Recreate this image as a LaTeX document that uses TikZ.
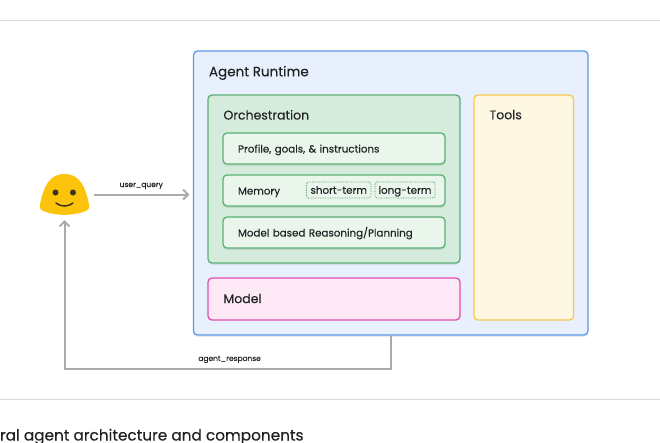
\documentclass[tikz,border=0pt]{standalone}
\usepackage{fontspec}
\setmainfont[FakeBold=0.12]{Poppins}
\newfontfamily\captionfont[FakeBold=0.35]{Poppins}
\usepackage{xcolor}
\usetikzlibrary{positioning, arrows.meta, shadows}

\definecolor{runtimeblue}{HTML}{5E97EC}
\definecolor{runtimefill}{HTML}{E8F0FD}
\definecolor{orchgreen}{HTML}{5BB077}
\definecolor{orchfill}{HTML}{D5EBDB}
\definecolor{itemfill}{HTML}{EAF6EC}
\definecolor{modelpink}{HTML}{E04FAE}
\definecolor{modelfill}{HTML}{FDE9F5}
\definecolor{toolsyellow}{HTML}{F6C84E}
\definecolor{toolsfill}{HTML}{FEF8E2}
\definecolor{flowgrey}{HTML}{A9ABAE}
\definecolor{rulegrey}{HTML}{D9DADB}
\definecolor{facegold}{HTML}{FCC30B}
\definecolor{faceink}{HTML}{3A3324}
\definecolor{textink}{HTML}{202124}

\begin{document}
\begin{tikzpicture}[
        x=1pt, y=1pt,
        outer sep=0pt,
        text=textink,
        panel/.style={rectangle, draw, rounded corners=4pt, line width=1.3pt},
        softshadow/.style={drop shadow={shadow xshift=0pt, shadow yshift=-2pt, fill=black, opacity=.08}},
        title/.style={inner sep=0pt, font=\fontsize{12.5}{15}\selectfont},
        item/.style={panel, draw=orchgreen, fill=itemfill, minimum width=222pt, minimum height=31pt, text width=192pt,
            inner xsep=15pt, inner ysep=0pt, align=left, text height=9pt, text depth=1pt, font=\fontsize{10.3}{12}\selectfont, softshadow},
        chip/.style={rectangle, draw=orchgreen!80!black, densely dotted, line width=.7pt, rounded corners=2pt, minimum height=16pt,
            inner sep=0pt, text height=8.5pt, text depth=1pt, font=\fontsize{10.3}{12}\selectfont},
        flow/.style={draw=flowgrey, line width=2pt, -{Straight Barb[length=5pt, width=10pt]}},
        flowlabel/.style={inner sep=1.5pt, font=\fontsize{7.5}{9}\selectfont},
        rule/.style={draw=rulegrey, line width=1pt},
    ]
        \useasboundingbox (0,0) rectangle (660,-442);
        \draw[rule] (0,-20.5) -- (660,-20.5);
        \draw[rule] (0,-399.5) -- (660,-399.5);

        \node[panel, draw=runtimeblue, fill=runtimefill, minimum width=394.5pt, minimum height=284pt, softshadow] (runtime) at (390.75,-193) {};
        \node[title, font=\fontsize{13.5}{16}\selectfont, below right=15pt and 15.5pt of runtime.north west] (runtimetitle) {Agent Runtime};

        \node[panel, draw=orchgreen, fill=orchfill, minimum width=252pt, minimum height=168pt, below right=44pt and 14.5pt of runtime.north west, softshadow] (orchestration) {};
        \node[title, below right=15pt and 15.5pt of orchestration.north west] (orchtitle) {Orchestration};

        \node[item, below=38pt of orchestration.north] (profile) {Profile, goals, \& instructions};
        \node[item, below=11pt of profile] (memory) {Memory};
        \node[item, below=11pt of memory] (reasoning) {Model based Reasoning/Planning};
        \node[chip, minimum width=64.5pt, right=83.5pt of memory.west, yshift=.5pt] (shortterm) {short-term};
        \node[chip, minimum width=60pt, right=4pt of shortterm] (longterm) {long-term};

        \node[panel, draw=modelpink, fill=modelfill, minimum width=252pt, minimum height=42pt, below=15pt of orchestration] (model) {};
        \node[title, right=15.5pt of model.west, yshift=.5pt] (modeltitle) {Model};

        \node[panel, draw=toolsyellow, fill=toolsfill, minimum width=99.5pt, minimum height=225pt, below right=0pt and 14pt of orchestration.north east] (tools) {};
        \node[title, below right=15pt and 15.5pt of tools.north west] (toolstitle) {Tools};

        \node[minimum width=49pt, minimum height=41pt, inner sep=0pt] (user) at (64.5,-194.5) {};
        \fill[facegold, shift={(user)}] (0,20.5) .. controls (15,20.5) and (21,8) .. (24.5,-10)
            .. controls (25.5,-14) and (23,-16) .. (20,-17)
            .. controls (8,-21.5) and (-8,-21.5) .. (-20,-17)
            .. controls (-23,-16) and (-25.5,-14) .. (-24.5,-10)
            .. controls (-21,8) and (-15,20.5) .. (0,20.5) -- cycle;
        \fill[faceink, shift={(user)}] (-9,2) circle (3pt) (8.5,2) circle (3pt);
        \draw[faceink, line width=1.5pt, line cap=round, shift={(user)}] (-8.5,-8.5) .. controls (-4,-12.5) and (4,-12.5) .. (8.5,-8.5);

        \coordinate[below=33.5pt of runtime.south] (returnturn);
        \draw[flow, shorten <=5pt, shorten >=4pt] (user.east) -- node[flowlabel, above=4pt] (userquery) {user\_query} (user.east -| runtime.west);
        \draw[flow, shorten >=5pt] (runtime.south) -- (returnturn) -| node[flowlabel, pos=.247, above=4pt] (agentresponse) {agent\_response} (user.south);

        \node[anchor=base west, inner sep=0pt, font=\captionfont\fontsize{15.3}{18}\selectfont] (caption) at (0,-440.5) {ral agent architecture and components};
    \end{tikzpicture}
\end{document}
